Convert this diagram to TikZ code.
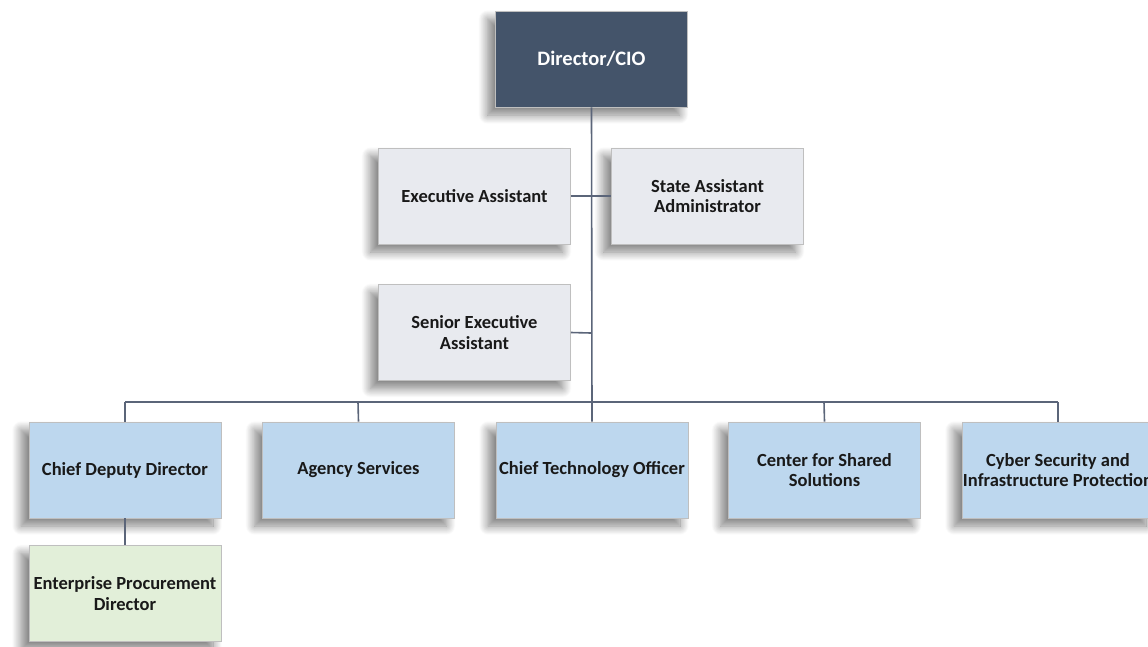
\documentclass[tikz,border=0pt]{standalone}
\usepackage{fontspec}
\setmainfont{Carlito}
\usetikzlibrary{shadows.blur}
\definecolor{topfill}{HTML}{44546A}
\definecolor{greyfill}{HTML}{E8EAEF}
\definecolor{bluefill}{HTML}{BDD7EE}
\definecolor{greenfill}{HTML}{E2EFD9}
\definecolor{linkcol}{HTML}{5B6579}
\tikzset{
  orgbox/.style={rectangle, minimum width=192pt, minimum height=96pt, inner sep=1pt,
    draw=white!75!black, line width=0.8pt, align=center,
    font=\fontsize{18.5}{20.5}\selectfont\bfseries, text=black!90,
    blur shadow={shadow xshift=-8pt, shadow yshift=-8pt, shadow blur radius=9pt,
      shadow blur steps=14, shadow opacity=50}},
  topbox/.style={orgbox, fill=topfill, text=white, font=\fontsize{20.5}{23}\selectfont\bfseries},
  greybox/.style={orgbox, fill=greyfill},
  bluebox/.style={orgbox, fill=bluefill},
  greenbox/.style={orgbox, fill=greenfill},
  link/.style={draw=linkcol, line width=1.6pt}
}
\begin{document}
\begin{tikzpicture}[x=1pt, y=-1pt]
  \useasboundingbox (0,0) rectangle (1148,646);
  \begin{scope}
  \clip (0,0) rectangle (1148,646);
  % junction points on the trunk and the bus
  \coordinate (busL) at (125,402);
  \coordinate (busR) at (1058,402);
  \coordinate (jS) at (591,333);
  \coordinate (b2) at (358,402);
  \coordinate (b4) at (824,402);

  % boxes
  \node[topbox] (dir) at (591.5,59) {Director/CIO};
  \node[greybox] (ea) at (474.5,196) {Executive Assistant};
  \node[greybox] (saa) at (707.5,196) {State Assistant\\Administrator};
  \node[greybox] (sea) at (474.5,332.5) {Senior Executive\\Assistant};
  \node[bluebox] (cdd) at (125,470) {Chief Deputy Director};
  \node[bluebox] (ags) at (358.5,470) {Agency Services};
  \node[bluebox] (cto) at (592,470) {Chief Technology Officer};
  \node[bluebox] (css) at (824.5,470) {Center for Shared\\Solutions};
  \node[bluebox] (cyb) at (1058,470) {Cyber Security and\\Infrastructure Protection};
  \node[greenbox] (epd) at (125,593.5) {Enterprise Procurement\\Director};

  % connectors
  \draw[link] (dir.south) -- (cto.north);
  \draw[link] (ea.east) -- (saa.west);
  \draw[link] (sea.east) -- (jS);
  \draw[link] (busL) -- (busR);
  \draw[link] (busL) -- (cdd.north);
  \draw[link] (b2) -- (ags.north);
  \draw[link] (b4) -- (css.north);
  \draw[link] (busR) -- (cyb.north);
  \draw[link] (cdd.south) -- (epd.north);
  \end{scope}
\end{tikzpicture}
\end{document}
